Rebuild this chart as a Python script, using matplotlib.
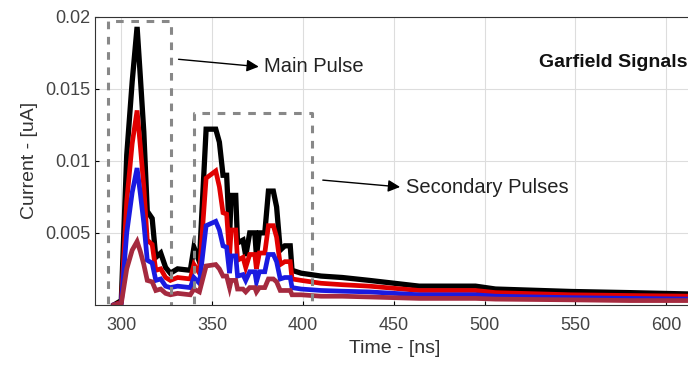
import matplotlib
matplotlib.use("Agg")
import matplotlib.pyplot as plt

plt.rcParams["font.family"] = ["Liberation Sans", "DejaVu Sans"]

# time axis (ns), shared by all signals
time_ns = [296, 300, 303, 306, 308.7, 310.5, 312.4, 314.3, 317, 319,
           321.7, 324.4, 327, 331, 338, 340, 343, 346.7, 352, 354,
           356, 358, 359.6, 360.5, 363, 364, 367, 368.5, 370.7, 373.5,
           374.4, 376, 379, 381, 383.7, 385.5, 387.5, 390, 393, 394,
           399, 410, 421.7, 436.5, 464, 495, 506, 547.6, 580, 615]

sig_black = [0, 0.0003, 0.0104, 0.0155, 0.0193, 0.0158, 0.012, 0.0065, 0.006, 0.0033,
             0.0036, 0.0026, 0.0022, 0.0025, 0.0024, 0.004, 0.003, 0.0122, 0.0122, 0.0113,
             0.009, 0.009, 0.0047, 0.0076, 0.0076, 0.0043, 0.0045, 0.0034, 0.005, 0.005,
             0.0034, 0.005, 0.005, 0.0079, 0.0079, 0.0068, 0.0038, 0.0041, 0.0041, 0.0024,
             0.0022, 0.002, 0.0019, 0.0017, 0.0013, 0.0013, 0.0011, 0.00093, 0.00085, 0.00075]

sig_red = [0, 0.0002, 0.0072, 0.0112, 0.0135, 0.011, 0.0082, 0.0045, 0.0042, 0.0024,
           0.0025, 0.0019, 0.0017, 0.0019, 0.0018, 0.0028, 0.0022, 0.0088, 0.0093, 0.0082,
           0.0064, 0.0063, 0.0034, 0.0052, 0.0052, 0.0031, 0.0033, 0.0026, 0.0035, 0.0035,
           0.0025, 0.0036, 0.0036, 0.0055, 0.0055, 0.0047, 0.0028, 0.003, 0.003, 0.0018,
           0.0017, 0.0015, 0.0014, 0.0013, 0.001, 0.001, 0.00085, 0.0007, 0.00065, 0.0006]

sig_blue = [0, 0.0001, 0.005, 0.0078, 0.0095, 0.0077, 0.0057, 0.0031, 0.0029, 0.0017,
            0.0018, 0.0013, 0.0012, 0.0013, 0.0012, 0.0019, 0.0015, 0.0055, 0.0058, 0.0052,
            0.0041, 0.004, 0.0022, 0.0034, 0.0034, 0.002, 0.0021, 0.0017, 0.0023, 0.0023,
            0.0016, 0.0023, 0.0023, 0.0035, 0.0035, 0.003, 0.0018, 0.0019, 0.0019, 0.0012,
            0.0011, 0.001, 0.00095, 0.0009, 0.0007, 0.0007, 0.0006, 0.0005, 0.00045, 0.0004]

sig_maroon = [0, 0.0001, 0.0025, 0.0038, 0.0044, 0.0037, 0.0028, 0.0017, 0.0016, 0.001,
              0.0011, 0.0008, 0.0007, 0.0008, 0.0007, 0.0011, 0.0009, 0.0027, 0.0028, 0.0025,
              0.002, 0.002, 0.0012, 0.0017, 0.0017, 0.0011, 0.0011, 0.0009, 0.0012, 0.0012,
              0.0009, 0.0012, 0.0012, 0.0018, 0.0018, 0.0016, 0.001, 0.001, 0.001, 0.0007,
              0.0007, 0.0006, 0.0006, 0.00055, 0.00045, 0.00045, 0.0004, 0.00035, 0.0003, 0.0003]

x_ticks = [300, 350, 400, 450, 500, 550, 600]
y_ticks = [0.005, 0.01, 0.015, 0.02]
y_tick_labels = ["0.005", "0.01", "0.015", "0.02"]

# dashed boxes: (t_left, t_right, top)
box_main = (292.8, 327.6, 0.0197)
box_second = (339.8, 405.0, 0.0133)

fig = plt.figure(figsize=(6.88, 3.66), dpi=100)
ax = fig.add_axes([0.138, 0.167, 0.87, 0.787])

series = [(sig_black, "black", 3.8), (sig_red, "#e00000", 3.4),
          (sig_blue, "#1a1ae0", 3.4), (sig_maroon, "#a52a3f", 3.4)]
for vals, col, lw in series:
    ax.plot(time_ns, vals, color=col, linewidth=lw, solid_joinstyle="miter")

for (t0, t1, top) in (box_main, box_second):
    ax.plot([t0, t0, t1, t1], [-0.001, top, top, -0.001], linestyle=(0, (2.5, 2.5)),
            color="#888888", linewidth=2.2, clip_on=True)

ax.annotate("", xy=(377.2, 0.01652), xytext=(330.0, 0.01707),
            arrowprops=dict(arrowstyle="-|>", color="black", lw=1, mutation_scale=18))
ax.text(378.5, 0.01652, "Main Pulse", fontsize=14.5, color="#222222", va="center")
ax.annotate("", xy=(455.0, 0.00817), xytext=(409.4, 0.00868),
            arrowprops=dict(arrowstyle="-|>", color="black", lw=1, mutation_scale=18))
ax.text(456.5, 0.00817, "Secondary Pulses", fontsize=14.5, color="#222222", va="center")
ax.text(0.99, 0.84, "Garfield Signals", transform=ax.transAxes, fontsize=14,
        fontweight="bold", color="#111111", ha="right", va="center")

ax.set_xlim(285.5, 615)
ax.set_ylim(0, 0.02)
ax.set_xticks(x_ticks)
ax.set_yticks(y_ticks)
ax.set_yticklabels(y_tick_labels)
ax.tick_params(direction="in", labelsize=13, labelcolor="#444444", length=3)
ax.tick_params(axis="x", pad=9)
ax.grid(True, color="#dddddd", linewidth=0.8)
ax.set_axisbelow(True)
ax.spines["right"].set_visible(False)
for s in ("left", "top", "bottom"):
    ax.spines[s].set_color("#333333")
ax.set_xlabel("Time - [ns]", fontsize=14, color="#333333", labelpad=4)
ax.set_ylabel("Current - [uA]", fontsize=14, color="#333333", labelpad=5)

fig.savefig("out.png", dpi=100)
